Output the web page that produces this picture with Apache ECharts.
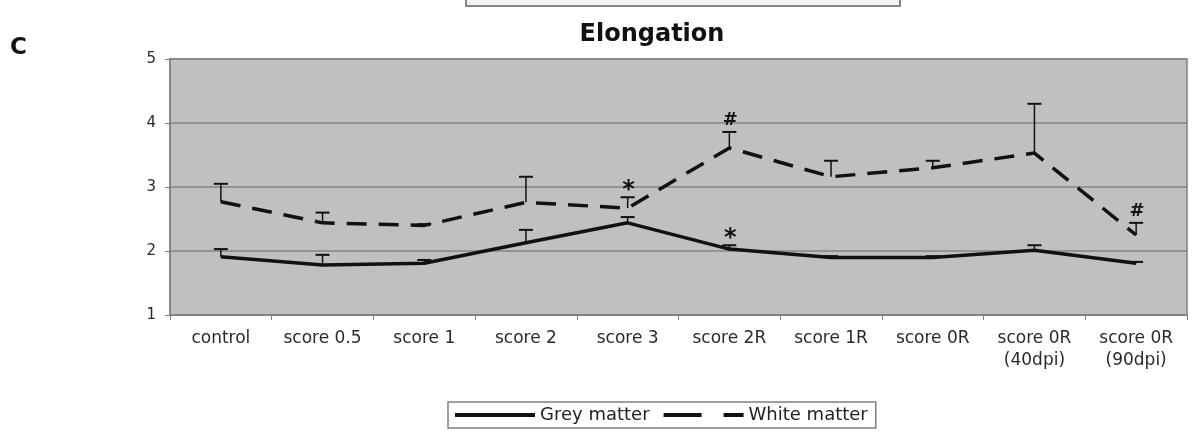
<!DOCTYPE html>
<html>
<head>
<meta charset="utf-8">
<script src="https://cdn.jsdelivr.net/npm/echarts@6/dist/echarts.min.js"></script>
<style>
  html, body { margin: 0; padding: 0; background: #fff; }
  #chart { width: 1194px; height: 440px; }
</style>
</head>
<body>
<div id="chart"></div>
<script>
// data
const categories = ['control', 'score 0.5', 'score 1', 'score 2', 'score 3', 'score 2R',
  'score 1R', 'score 0R', 'score 0R\n(40dpi)', 'score 0R\n(90dpi)'];
const greyMatter = [1.91, 1.78, 1.81, 2.13, 2.44, 2.03, 1.90, 1.90, 2.01, 1.81];
const greySD = [0.12, 0.16, 0.05, 0.20, 0.09, 0.06, 0.02, 0.02, 0.08, 0.02];
const greySig = ['', '', '', '', '', '*', '', '', '', ''];
const whiteMatter = [2.77, 2.44, 2.40, 2.76, 2.67, 3.61, 3.16, 3.30, 3.53, 2.25];
const whiteSD = [0.28, 0.16, 0.02, 0.40, 0.17, 0.25, 0.25, 0.11, 0.77, 0.19];
const whiteSig = ['', '', '', '', '*', '#', '', '', '', '#'];

const FONT = '"DejaVu Sans", Arial, sans-serif';

// error bar rows: [index, mean, mean + sd, mark]
function errRows(mean, sd, sig) {
  return mean.map((m, i) => [i, m, +(m + sd[i]).toFixed(3), sig[i]]);
}

function renderErr(params, api) {
  const i = api.value(0);
  const base = api.coord([i, api.value(1)]);
  const top = api.coord([i, api.value(2)]);
  const mark = api.value(3);
  const children = [
    { type: 'line', shape: { x1: base[0], y1: base[1], x2: top[0], y2: top[1] },
      style: { stroke: '#111', lineWidth: 1.5 } },
    { type: 'line', shape: { x1: top[0] - 7, y1: top[1], x2: top[0] + 7, y2: top[1] },
      style: { stroke: '#111', lineWidth: 2 } },
  ];
  if (mark) {
    // '*' glyph sits high in its box, so push it down a bit
    children.push({
      type: 'text',
      style: {
        text: mark, x: top[0] + 1, y: top[1] + (mark === '*' ? 6 : -3),
        align: 'center', verticalAlign: 'bottom',
        font: 'bold ' + (mark === '*' ? 24 : 18) + 'px ' + FONT, fill: '#111',
      },
    });
  }
  return { type: 'group', children };
}

const chart = echarts.init(document.getElementById('chart'));
chart.setOption({
  animation: false,
  backgroundColor: '#fff',
  textStyle: { fontFamily: FONT },
  title: {
    text: 'Elongation',
    left: 647, top: 18, textAlign: 'center',
    textStyle: { fontSize: 24, fontWeight: 'bold', color: '#111', fontFamily: FONT },
  },
  graphic: [
    { type: 'text', left: 10, top: 37,
      style: { text: 'C', font: 'bold 23px ' + FONT, fill: '#111' } },
    { type: 'rect', shape: { x: 466, y: -10, width: 434, height: 16 },
      style: { fill: '#f2f2f2', stroke: '#888', lineWidth: 2 } },
  ],
  legend: {
    left: 448, top: 402,
    padding: [4, 8, 4, 5],
    itemWidth: 80, itemHeight: 4, itemGap: 12,
    borderColor: '#808080', borderWidth: 1.5, backgroundColor: '#fff',
    itemStyle: { opacity: 0 },
    lineStyle: { width: 4 },
    textStyle: { fontSize: 18, color: '#222', fontFamily: FONT },
    data: [
      { name: 'Grey matter' },
      { name: 'White matter', lineStyle: { width: 4, type: [38, 22] } },
    ],
  },
  grid: {
    left: 170, right: 7, top: 59, bottom: 125,
    show: true, backgroundColor: '#c0c0c0', borderColor: '#808080', borderWidth: 1.5,
  },
  xAxis: {
    type: 'category',
    data: categories,
    boundaryGap: true,
    axisLine: { show: true, lineStyle: { color: '#808080', width: 1.5 } },
    axisTick: { show: true, length: 5, lineStyle: { color: '#808080' } },
    axisLabel: { color: '#2a2a2a', fontSize: 17, margin: 13, lineHeight: 22, interval: 0 },
  },
  yAxis: {
    type: 'value',
    min: 1, max: 5, interval: 1,
    axisLine: { show: true, lineStyle: { color: '#808080', width: 1.5 } },
    axisTick: { show: true, length: 5, lineStyle: { color: '#808080' } },
    axisLabel: { color: '#2a2a2a', fontSize: 15, margin: 14 },
    splitLine: { show: true, lineStyle: { color: '#858585', width: 1.5 } },
  },
  series: [
    {
      name: 'Grey matter', type: 'line', data: greyMatter,
      symbol: 'none', z: 3,
      lineStyle: { color: '#111', width: 3.5 },
      itemStyle: { color: '#111' },
    },
    {
      name: 'White matter', type: 'line', data: whiteMatter,
      symbol: 'none', z: 3,
      lineStyle: { color: '#111', width: 3.5, type: [20, 12] },
      itemStyle: { color: '#111' },
    },
    {
      type: 'custom', renderItem: renderErr, z: 4,
      data: errRows(greyMatter, greySD, greySig),
      encode: { x: 0, y: [1, 2] },
    },
    {
      type: 'custom', renderItem: renderErr, z: 4,
      data: errRows(whiteMatter, whiteSD, whiteSig),
      encode: { x: 0, y: [1, 2] },
    },
  ],
});
</script>
</body>
</html>
